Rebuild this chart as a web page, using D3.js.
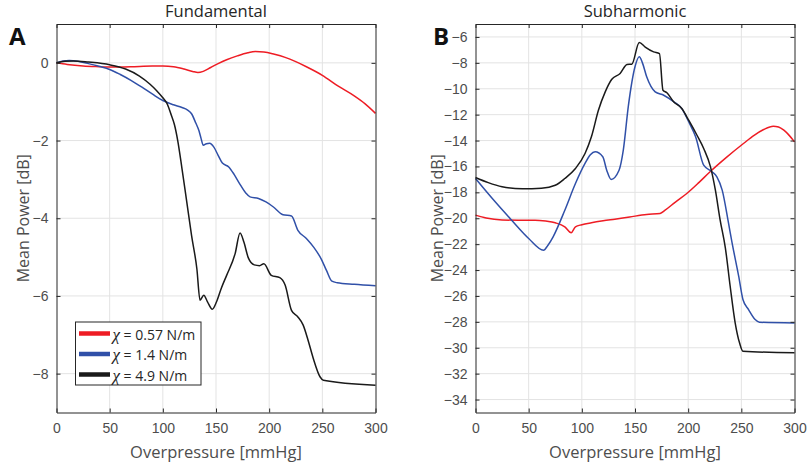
<!DOCTYPE html>
<html>
<head>
<meta charset="utf-8">
<script src="https://cdn.jsdelivr.net/npm/d3@7"></script>
<style>
  html, body { margin: 0; padding: 0; background: #fff; }
  svg { display: block; font-family: "Open Sans", "DejaVu Sans", sans-serif; }
  .tick text { fill: #4d4d4d; font-size: 14px; }
  .grid line { stroke: #e3e3e3; stroke-width: 1; }
</style>
</head>
<body>
<svg id="chart" width="807" height="468"></svg>
<script>
// Overpressure (mmHg) vs mean power (dB), one array per curve
const xTicks = [0, 50, 100, 150, 200, 250, 300];
const yTicksA = [-8, -6, -4, -2, 0];
const yTicksB = [-34, -32, -30, -28, -26, -24, -22, -20, -18, -16, -14, -12, -10, -8, -6];

const seriesNames = ["0.57 N/m", "1.4 N/m", "4.9 N/m"];
const seriesColors = ["#ee1c24", "#3050a8", "#1a1a1a"];

const fundRed = [[0,0],[10,-0.04],[25,-0.08],[40,-0.1],[50,-0.11],[70,-0.1],[90,-0.08],[100,-0.08],[110,-0.1],
  [120,-0.16],[128,-0.22],[133,-0.25],[138,-0.22],[145,-0.12],[152,-0.02],[160,0.08],[170,0.18],[180,0.26],
  [187,0.29],[195,0.28],[205,0.22],[215,0.14],[225,0.03],[235,-0.1],[250,-0.32],[265,-0.6],[280,-0.85],
  [290,-1.05],[300,-1.3]];
const fundBlue = [[0,0],[6,0.05],[12,0.06],[20,0.04],[30,-0.02],[40,-0.09],[50,-0.17],[60,-0.3],[70,-0.45],
  [80,-0.62],[90,-0.8],[100,-0.97],[110,-1.08],[118,-1.15],[123,-1.21],[127,-1.31],[131,-1.55],[134,-1.75],
  [136,-1.95],[138,-2.12],[141,-2.08],[144,-2.07],[148,-2.17],[152,-2.38],[156,-2.58],[162,-2.68],[167,-2.87],
  [172,-3.1],[178,-3.35],[182,-3.45],[190,-3.49],[197,-3.58],[204,-3.71],[213,-3.91],[221,-3.94],[227,-4.31],
  [235,-4.52],[242,-4.75],[249,-5.05],[254,-5.35],[259,-5.62],[264,-5.66],[280,-5.7],[300,-5.74]];
const fundBlack = [[0,0],[8,0.04],[16,0.05],[30,0.02],[50,-0.05],[65,-0.16],[78,-0.34],[88,-0.55],[94,-0.71],
  [100,-0.9],[104,-1.05],[108,-1.35],[111,-1.6],[114,-2.0],[118,-2.72],[122.5,-3.58],[127,-4.44],[132,-5.3],
  [135,-6.11],[138.5,-5.98],[142,-6.15],[146.5,-6.34],[150.5,-6.15],[155,-5.8],[160,-5.47],[168,-4.91],
  [172.6,-4.38],[176.3,-4.62],[180.4,-5.02],[186,-5.2],[191,-5.22],[195,-5.17],[202,-5.47],[210,-5.53],
  [215,-5.72],[221,-6.37],[227,-6.54],[232,-6.75],[237,-7.18],[241.5,-7.61],[247.8,-8.08],[251,-8.17],[300,-8.3]];

const subRed = [[0,-19.76],[10,-19.98],[25,-20.13],[40,-20.15],[56,-20.15],[66,-20.22],[75,-20.35],[84,-20.66],
  [90,-21.12],[94,-20.66],[100,-20.5],[109,-20.35],[120,-20.2],[131,-20.07],[145,-19.9],[161,-19.71],
  [173.6,-19.63],[178.3,-19.38],[188,-18.75],[198.7,-18.09],[210,-17.25],[220.6,-16.41],[236,-15.3],
  [252,-14.23],[262,-13.6],[271,-13.15],[280,-12.89],[285,-12.95],[290,-13.2],[295,-13.6],[300,-14.1]];
const subBlue = [[0,-16.93],[18.5,-18.73],[34,-20.15],[50,-21.56],[64,-22.47],[68,-22.1],[73,-21.43],[84,-19.38],
  [94,-17.32],[103,-15.77],[108,-15.1],[112.5,-14.87],[119.7,-15.25],[123.4,-16.29],[127.5,-17.0],[135,-16.29],
  [139,-14.74],[143.8,-11.3],[150,-8.3],[154,-7.53],[157,-8.0],[161,-9.08],[169,-10.24],[177,-10.5],
  [186.3,-11.0],[194,-11.53],[200.5,-12.55],[207,-13.71],[214.6,-15.9],[222.4,-16.41],[227,-16.8],[232,-17.83],
  [238,-20.4],[241.3,-21.9],[247.5,-24.47],[251.5,-26.27],[256.8,-27.05],[263,-27.82],[267,-28.03],[300,-28.08]];
const subBlack = [[0,-16.85],[12,-17.25],[25,-17.57],[44,-17.73],[62,-17.68],[75,-17.45],[84,-16.93],[94,-16.16],
  [103,-15.0],[109,-13.71],[115.6,-11.66],[122,-10.24],[128,-9.29],[136,-8.82],[142.5,-8.13],[147,-8.1],
  [154,-6.43],[159.6,-6.78],[167.5,-7.15],[173,-7.28],[176.3,-10.11],[180,-10.31],[186.3,-11.0],[194,-11.53],
  [200.5,-12.43],[208.3,-13.59],[214.6,-14.61],[221,-16.03],[225.6,-17.83],[230,-20.1],[235,-22.3],
  [239.5,-25.25],[244.2,-28.07],[248.3,-29.62],[251.5,-30.27],[300,-30.39]];

const svg = d3.select("#chart");

function drawPanel(opts) {
  const { left, right, top, bottom, yDomain, yTicks, series, title, letter, letterX, labelX } = opts;

  const x = d3.scaleLinear().domain([0, 300]).range([left, right]);
  const y = d3.scaleLinear().domain(yDomain).range([bottom, top]);
  const g = svg.append("g");

  // grid
  const grid = g.append("g").attr("class", "grid");
  grid.selectAll("line.gx").data(xTicks.slice(1, -1)).enter().append("line")
    .attr("x1", d => x(d)).attr("x2", d => x(d)).attr("y1", top).attr("y2", bottom);
  grid.selectAll("line.gy").data(yTicks).enter().append("line")
    .attr("x1", left).attr("x2", right).attr("y1", d => y(d)).attr("y2", d => y(d));

  // curves
  const line = d3.line().x(d => x(d[0])).y(d => y(d[1])).curve(d3.curveMonotoneX);
  series.forEach((s, i) => {
    g.append("path").datum(s)
      .attr("d", line)
      .attr("fill", "none")
      .attr("stroke", seriesColors[i])
      .attr("stroke-width", 1.5)
      .attr("stroke-linejoin", "round");
  });

  // axes (box with inward ticks)
  const axStyle = sel => {
    sel.select(".domain").attr("stroke", "#262626").attr("stroke-width", 1);
    sel.selectAll(".tick line").attr("stroke", "#262626");
  };
  g.append("g").attr("transform", `translate(0,${bottom})`)
    .call(d3.axisBottom(x).tickValues(xTicks).tickSizeInner(-4).tickSizeOuter(0).tickPadding(11))
    .call(axStyle);
  g.append("g").attr("transform", `translate(0,${top})`)
    .call(d3.axisTop(x).tickValues(xTicks).tickSizeInner(-4).tickSizeOuter(0).tickFormat(""))
    .call(axStyle);
  g.append("g").attr("transform", `translate(${left},0)`)
    .call(d3.axisLeft(y).tickValues(yTicks).tickSizeInner(-4).tickSizeOuter(0).tickPadding(8))
    .call(axStyle);
  g.append("g").attr("transform", `translate(${right},0)`)
    .call(d3.axisRight(y).tickValues(yTicks).tickSizeInner(-4).tickSizeOuter(0).tickFormat(""))
    .call(axStyle);
  g.selectAll(".tick text").attr("font-family", null).attr("font-size", null);

  // title
  g.append("text")
    .attr("x", (left + right) / 2).attr("y", 17)
    .attr("text-anchor", "middle")
    .attr("fill", "#262626")
    .style("font-size", "16.5px")
    .text(title);

  // axis labels
  g.append("text")
    .attr("x", (left + right) / 2).attr("y", 458)
    .attr("text-anchor", "middle")
    .attr("fill", "#4d4d4d")
    .style("font-size", "16.5px")
    .text("Overpressure [mmHg]");
  g.append("text")
    .attr("transform", `translate(${labelX},${(top + bottom) / 2}) rotate(-90)`)
    .attr("text-anchor", "middle")
    .attr("fill", "#4d4d4d")
    .style("font-size", "16px")
    .text("Mean Power [dB]");

  // panel letter
  g.append("text")
    .attr("x", letterX).attr("y", 45)
    .attr("fill", "#111")
    .style("font-size", "24px")
    .style("font-weight", "bold")
    .text(letter);

  return { x, y, g };
}

const panelA = drawPanel({
  left: 56.5, right: 375.5, top: 24, bottom: 412.5,
  yDomain: [-9, 1], yTicks: yTicksA,
  series: [fundRed, fundBlue, fundBlack],
  title: "Fundamental", letter: "A", letterX: 9, labelX: 29
});

drawPanel({
  left: 475.5, right: 794.5, top: 24, bottom: 412.5,
  yDomain: [-35, -5], yTicks: yTicksB,
  series: [subRed, subBlue, subBlack],
  title: "Subharmonic", letter: "B", letterX: 433, labelX: 443
});

// legend in panel A
const legend = panelA.g.append("g").attr("transform", "translate(75.5,322)");
legend.append("rect")
  .attr("width", 125.5).attr("height", 63)
  .attr("fill", "#fff").attr("stroke", "#262626").attr("stroke-width", 1);
seriesNames.forEach((name, i) => {
  const ly = 11.5 + i * 20.5;
  legend.append("line")
    .attr("x1", 3.5).attr("x2", 34.5).attr("y1", ly).attr("y2", ly)
    .attr("stroke", seriesColors[i]).attr("stroke-width", 4.5);
  const t = legend.append("text")
    .attr("x", 37).attr("y", ly + 6)
    .attr("fill", "#262626")
    .style("font-size", "14px");
  t.append("tspan")
    .style("font-family", "'Liberation Serif', serif")
    .style("font-style", "italic")
    .style("font-size", "17px")
    .text("χ");
  t.append("tspan").text(" = " + name);
});
</script>
</body>
</html>
